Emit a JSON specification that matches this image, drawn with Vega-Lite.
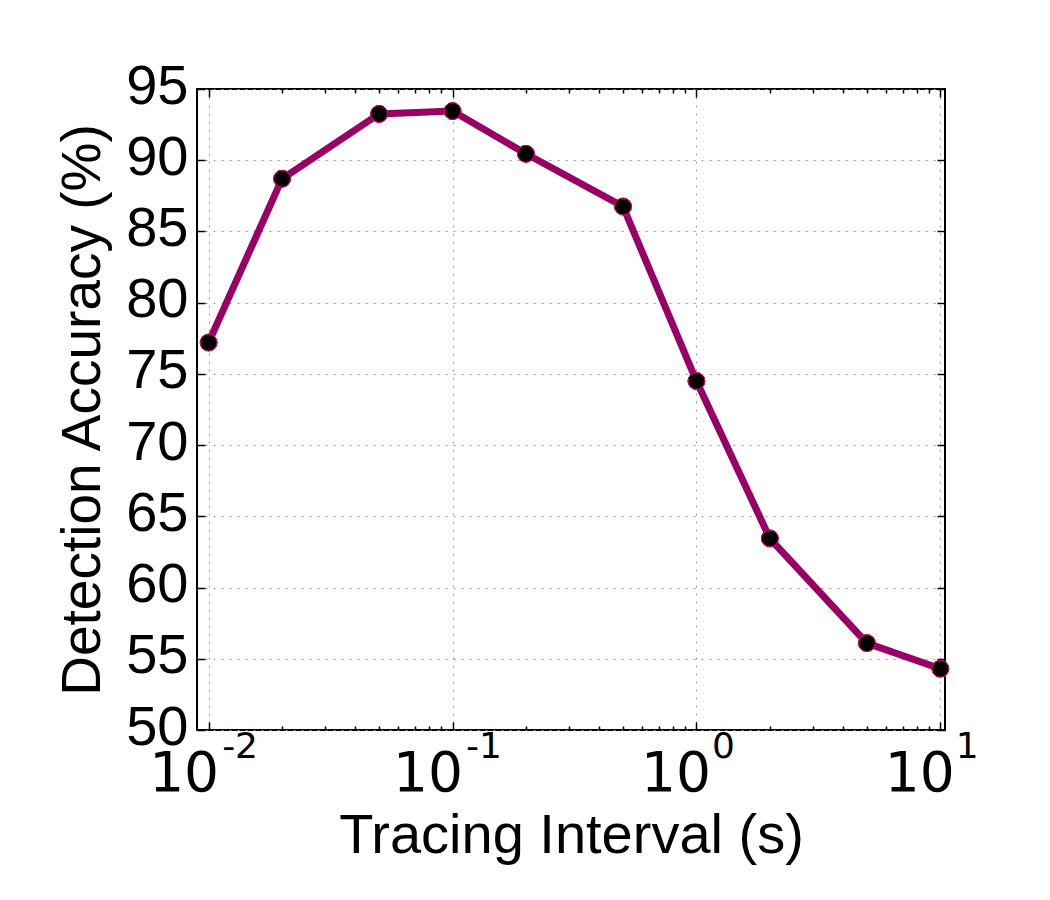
{
  "$schema": "https://vega.github.io/schema/vega-lite/v6.json",
  "autosize": {"type": "none"},
  "padding": {"left": 197, "top": 89, "right": 105, "bottom": 170},
  "width": 748,
  "height": 641,
  "background": "white",
  "config": {
    "view": {"stroke": "black", "strokeWidth": 2},
    "axis": {"domain": false, "labelFlush": false, "labelBound": false, "labelOverlap": false}
  },
  "data": {
    "values": [
      {"interval": 0.01, "accuracy": 77.2},
      {"interval": 0.02, "accuracy": 88.7},
      {"interval": 0.05, "accuracy": 93.25},
      {"interval": 0.1, "accuracy": 93.45},
      {"interval": 0.2, "accuracy": 90.45},
      {"interval": 0.5, "accuracy": 86.75},
      {"interval": 1, "accuracy": 74.5},
      {"interval": 2, "accuracy": 63.45},
      {"interval": 5, "accuracy": 56.1},
      {"interval": 10, "accuracy": 54.3}
    ]
  },
  "layer": [
    {
      "mark": {"type": "line", "color": "#990066", "strokeWidth": 7, "clip": false},
      "encoding": {
        "x": {
          "field": "interval", "type": "quantitative",
          "scale": {"type": "log", "domain": [0.00896, 10.45], "nice": false},
          "axis": {
            "orient": "bottom", "title": null, "labels": false,
            "values": [0.01,0.02,0.03,0.04,0.05,0.06,0.07,0.08,0.09,0.1,0.2,0.3,0.4,0.5,0.6,0.7,0.8,0.9,1,2,3,4,5,6,7,8,9,10],
            "tickColor": "black", "tickWidth": 1.5,
            "tickSize": {"condition": {"test": "datum.value == 0.01 || datum.value == 0.1 || datum.value == 1 || datum.value == 10", "value": -8}, "value": -4},
            "grid": true, "gridColor": "#999999", "gridDash": [2, 6], "gridWidth": 1,
            "gridOpacity": {"condition": {"test": "datum.value == 0.01 || datum.value == 0.1 || datum.value == 1 || datum.value == 10", "value": 1}, "value": 0}
          }
        },
        "y": {
          "field": "accuracy", "type": "quantitative",
          "scale": {"domain": [50, 95], "nice": false, "zero": false},
          "axis": {
            "orient": "left", "title": "Detection Accuracy (%)",
            "values": [50,55,60,65,70,75,80,85,90,95],
            "tickColor": "black", "tickWidth": 1.5, "tickSize": -8,
            "labelPadding": 17, "labelFont": "Liberation Sans", "labelFontSize": 56, "labelColor": "black",
            "labelBaseline": "middle", "labelOffset": -3,
            "grid": true, "gridColor": "#999999", "gridDash": [2, 6], "gridWidth": 1,
            "titleFont": "Liberation Sans", "titleFontSize": 55, "titleFontWeight": "normal", "titleColor": "black",
            "titlePadding": 14
          }
        }
      }
    },
    {
      "mark": {"type": "circle", "size": 280, "color": "black", "opacity": 1, "stroke": "#e0005f", "strokeWidth": 1, "clip": false},
      "encoding": {
        "x": {
          "field": "interval", "type": "quantitative",
          "axis": {
            "orient": "bottom", "title": "Tracing Interval (s)",
            "values": [0.01, 0.1, 1, 10], "ticks": false, "tickSize": 0, "grid": false,
            "labelExpr": "'10'", "labelAlign": "right",
            "labelOffset": {"condition": {"test": "datum.value < 1", "value": 10}, "value": 14},
            "labelBaseline": "alphabetic", "labelPadding": 60,
            "labelFont": "DejaVu Sans", "labelFontSize": 55, "labelColor": "black",
            "titleFont": "Liberation Sans", "titleFontSize": 56, "titleFontWeight": "normal", "titleColor": "black",
            "titleBaseline": "alphabetic", "titleY": 122
          }
        },
        "y": {
          "field": "accuracy", "type": "quantitative",
          "axis": {
            "orient": "right", "title": null, "labels": false,
            "values": [50,55,60,65,70,75,80,85,90,95],
            "tickColor": "black", "tickWidth": 1.5, "tickSize": -8, "grid": false
          }
        }
      }
    },
    {
      "mark": {"type": "circle", "size": 280, "color": "black", "opacity": 1, "stroke": "#e0005f", "strokeWidth": 1, "clip": false},
      "encoding": {
        "x": {
          "field": "interval", "type": "quantitative",
          "axis": {
            "orient": "bottom", "title": null,
            "values": [0.01, 0.1, 1, 10], "ticks": false, "tickSize": 0, "grid": false,
            "labelExpr": "'' + round(log(datum.value) / LN10)", "labelAlign": "left",
            "labelOffset": {"condition": {"test": "datum.value < 1", "value": 13}, "value": 15},
            "labelBaseline": "alphabetic", "labelPadding": 27,
            "labelFont": "DejaVu Sans", "labelFontSize": 36, "labelColor": "black"
          }
        },
        "y": {"field": "accuracy", "type": "quantitative", "axis": null}
      }
    },
    {
      "mark": {"type": "circle", "size": 280, "color": "black", "opacity": 1, "stroke": "#e0005f", "strokeWidth": 1, "clip": false},
      "encoding": {
        "x": {
          "field": "interval", "type": "quantitative",
          "axis": {
            "orient": "top", "title": null, "labels": false,
            "values": [0.01,0.02,0.03,0.04,0.05,0.06,0.07,0.08,0.09,0.1,0.2,0.3,0.4,0.5,0.6,0.7,0.8,0.9,1,2,3,4,5,6,7,8,9,10],
            "tickColor": "black", "tickWidth": 1.5,
            "tickSize": {"condition": {"test": "datum.value == 0.01 || datum.value == 0.1 || datum.value == 1 || datum.value == 10", "value": -8}, "value": -4},
            "grid": false
          }
        },
        "y": {"field": "accuracy", "type": "quantitative", "axis": null}
      }
    }
  ],
  "resolve": {"axis": {"x": "independent", "y": "independent"}}
}
